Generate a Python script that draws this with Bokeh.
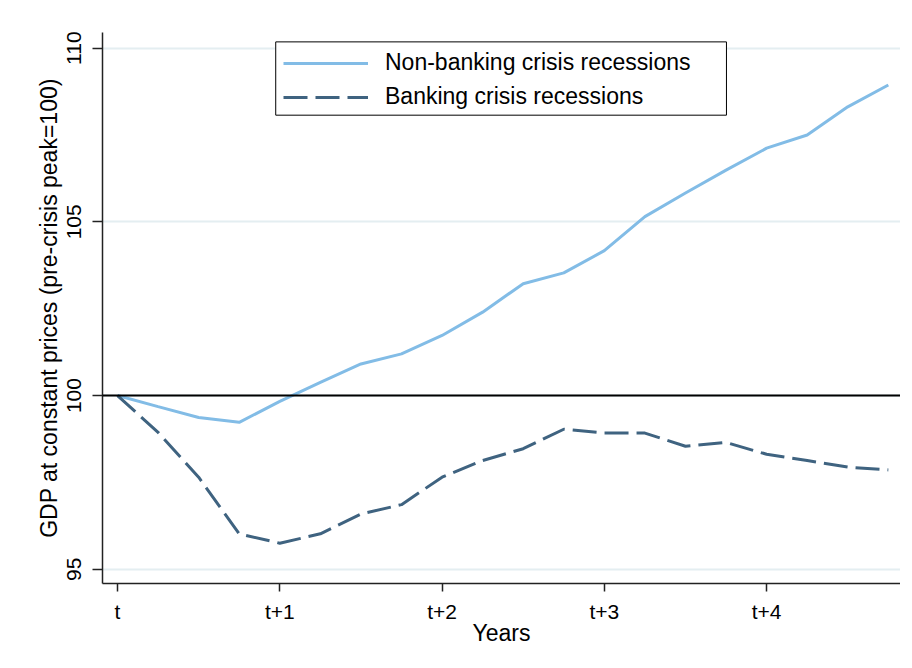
from bokeh.plotting import figure
from bokeh.models import Span, Legend, LegendItem, FixedTicker, Range1d, BoxAnnotation
from bokeh.embed import file_html
from bokeh.resources import INLINE

# Data (quarters after pre-crisis peak)
quarters = list(range(20))
non_banking = [100.0, 99.68, 99.37, 99.23, 99.83, 100.38, 100.91, 101.2, 101.73, 102.4,
               103.22, 103.53, 104.17, 105.15, 105.83, 106.49, 107.12, 107.5, 108.31, 108.94]
banking = [100.0, 98.94, 97.65, 96.02, 95.75, 96.02, 96.59, 96.86, 97.65, 98.13,
           98.47, 99.03, 98.92, 98.92, 98.54, 98.65, 98.31, 98.13, 97.94, 97.86]
x_tick_pos = [0, 4, 8, 12, 16]
x_tick_labels = ["t", "t+1", "t+2", "t+3", "t+4"]
y_ticks = [95, 100, 105, 110]

FONT = "Liberation Sans"
LIGHT = "#82BCE6"
DARK = "#3F6380"

p = figure(width=900, height=660,
           x_range=Range1d(-0.37, 19.3), y_range=Range1d(94.59, 110.45),
           output_backend="svg", toolbar_location=None,
           min_border_left=102, min_border_right=0, min_border_top=32, min_border_bottom=77)
p.outline_line_color = None
p.background_fill_color = "white"
p.border_fill_color = "white"

# grid
p.xgrid.grid_line_color = None
p.ygrid.ticker = FixedTicker(ticks=y_ticks)
p.ygrid.grid_line_color = "#E4EEF1"
p.ygrid.grid_line_width = 2

# reference line at 100
p.add_layout(Span(location=100, dimension="width", line_color="black", line_width=2))

r1 = p.line(quarters, non_banking, line_color=LIGHT, line_width=3)
r2 = p.line(quarters, banking, line_color=DARK, line_width=3, line_dash="24 8")

# x axis
xa = p.xaxis[0]
xa.ticker = FixedTicker(ticks=x_tick_pos)
xa.major_label_overrides = {k: v for k, v in zip(x_tick_pos, x_tick_labels)}
xa.axis_label = "Years"
xa.minor_tick_line_color = None
xa.major_tick_in = 0
xa.major_tick_out = 8
xa.axis_line_color = "#222222"
xa.axis_line_width = 1.5
xa.major_tick_line_color = "#222222"
xa.major_tick_line_width = 1.5
xa.major_label_text_font = FONT
xa.major_label_text_font_size = "21px"
xa.major_label_text_color = "black"
xa.major_label_standoff = 8
xa.axis_label_text_font = FONT
xa.axis_label_text_font_size = "23px"
xa.axis_label_text_font_style = "normal"
xa.axis_label_text_color = "black"
xa.axis_label_standoff = -6

# y axis
ya = p.yaxis[0]
ya.ticker = FixedTicker(ticks=y_ticks)
ya.axis_label = "GDP at constant prices (pre-crisis peak=100)"
ya.minor_tick_line_color = None
ya.major_tick_in = 0
ya.major_tick_out = 10
ya.axis_line_color = "#222222"
ya.axis_line_width = 1.5
ya.major_tick_line_color = "#222222"
ya.major_tick_line_width = 1.5
ya.major_label_orientation = "vertical"
ya.major_label_text_font = FONT
ya.major_label_text_font_size = "21px"
ya.major_label_text_color = "black"
ya.major_label_standoff = 11
ya.axis_label_text_font = FONT
ya.axis_label_text_font_size = "23px"
ya.axis_label_text_font_style = "normal"
ya.axis_label_text_color = "black"
ya.axis_label_standoff = 3

# legend frame (wider than Bokeh's auto box, as in the original)
p.add_layout(BoxAnnotation(left=3.90, right=15.01, top=110.18, bottom=108.07,
                           fill_color="white", fill_alpha=1,
                           line_color="black", line_width=1, line_alpha=1))

legend = Legend(items=[LegendItem(label="Non-banking crisis recessions", renderers=[r1]),
                       LegendItem(label="Banking crisis recessions", renderers=[r2])],
                location=(181, 473))
legend.label_text_font = FONT
legend.label_text_font_size = "23px"
legend.label_text_color = "black"
legend.glyph_width = 85
legend.glyph_height = 26
legend.label_height = 26
legend.label_standoff = 17
legend.spacing = 7
legend.padding = 7
legend.margin = 0
legend.border_line_color = None
legend.background_fill_alpha = 0
p.add_layout(legend)

open("out.html", "w").write(file_html(p, INLINE))
